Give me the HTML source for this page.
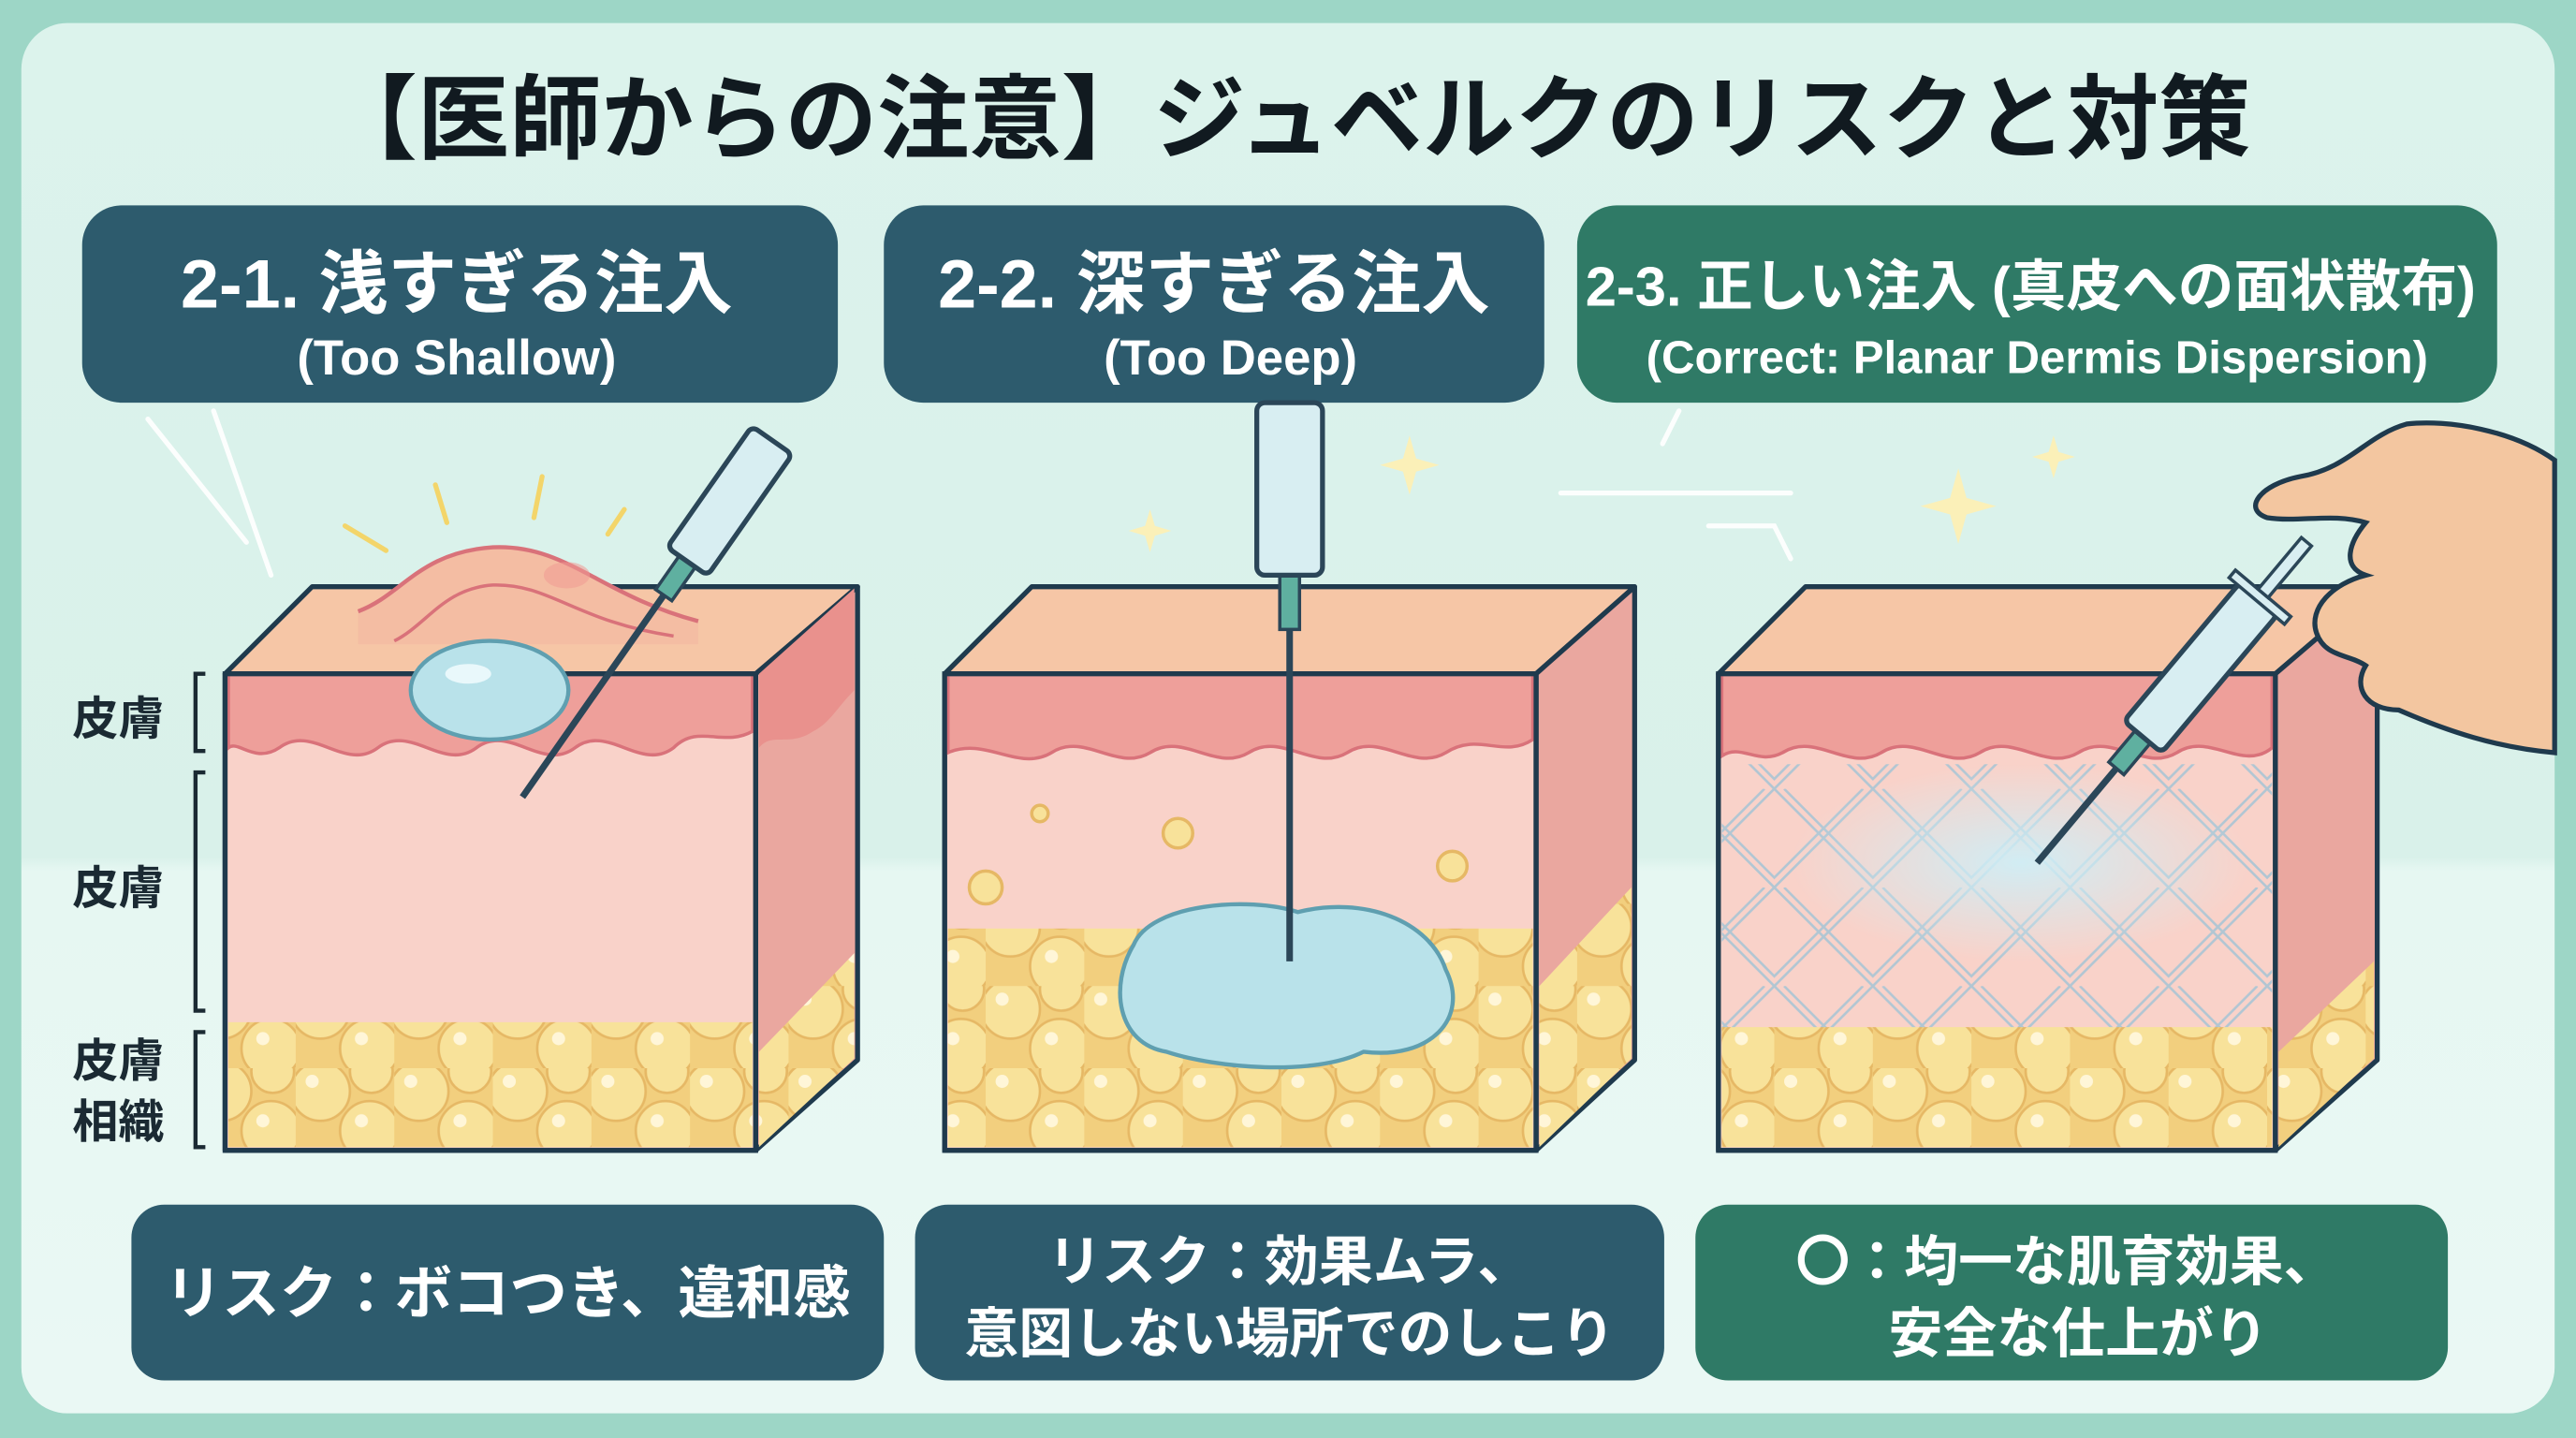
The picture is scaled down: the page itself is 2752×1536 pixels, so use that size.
<!DOCTYPE html>
<html><head><meta charset="utf-8"><style>
html,body{margin:0;padding:0;width:2752px;height:1536px;overflow:hidden;background:#9dd6c6}
svg{display:block}
text{font-family:"Liberation Sans","Noto Sans CJK JP",sans-serif;font-weight:bold}
</style></head><body>
<svg width="2752" height="1536" viewBox="0 0 1568 875" preserveAspectRatio="none" xmlns="http://www.w3.org/2000/svg">
<defs>
<linearGradient id="bg" x1="0" y1="0" x2="0" y2="1">
<stop offset="0" stop-color="#dcf3ec"/><stop offset="0.6" stop-color="#d9f1ea"/><stop offset="0.61" stop-color="#e6f7f2"/><stop offset="1" stop-color="#eaf8f4"/></linearGradient>
<pattern id="fat" width="60" height="50" patternUnits="userSpaceOnUse">
<rect width="60" height="50" fill="#f2cf7e"/>
<circle cx="15" cy="14" r="18" fill="#f8e29a" stroke="#e6b865" stroke-width="1.5"/>
<circle cx="45" cy="38" r="18" fill="#f8e29a" stroke="#e6b865" stroke-width="1.5"/>
<circle cx="46" cy="2" r="13" fill="#f8e29a" stroke="#e6b865" stroke-width="1.5"/>
<circle cx="10" cy="8" r="4" fill="#fff6d8"/><circle cx="40" cy="32" r="4" fill="#fff6d8"/>
</pattern>
<pattern id="mesh" width="60" height="60" patternUnits="userSpaceOnUse">
<path d="M0 0L60 60M6 0L66 60M0 60L60 0M-6 60L54 0" stroke="#9fc3d6" stroke-width="1.5" fill="none"/>
</pattern>
<radialGradient id="spray" cx="0.5" cy="0.5" r="0.5"><stop offset="0" stop-color="#cfeef6" stop-opacity="0.95"/><stop offset="1" stop-color="#cfeef6" stop-opacity="0"/></radialGradient>
</defs>
<rect x="0" y="0" width="1568" height="875" fill="#9dd6c6"/>
<rect x="13" y="14" width="1542" height="846" rx="28" fill="url(#bg)"/>

<text x="784" y="92" font-size="56" font-weight="900" text-anchor="middle" fill="#111a20">【医師からの注意】ジュベルクのリスクと対策</text>

<!-- headers -->
<rect x="50" y="125" width="460" height="120" rx="24" fill="#2d5b6d"/>
<text x="278" y="187" font-size="42" text-anchor="middle" fill="#fff">2-1. 浅すぎる注入</text>
<text x="278" y="228" font-size="30" text-anchor="middle" fill="#fff">(Too Shallow)</text>
<rect x="538" y="125" width="402" height="120" rx="24" fill="#2d5b6d"/>
<text x="739" y="187" font-size="42" text-anchor="middle" fill="#fff">2-2. 深すぎる注入</text>
<text x="749" y="228" font-size="30" text-anchor="middle" fill="#fff">(Too Deep)</text>
<rect x="960" y="125" width="560" height="120" rx="24" fill="#2f7a66"/>
<text x="1236" y="186" font-size="34" text-anchor="middle" fill="#fff">2-3. 正しい注入 (真皮への面状散布)</text>
<text x="1240" y="227" font-size="28" text-anchor="middle" fill="#fff">(Correct: Planar Dermis Dispersion)</text>

<!-- decorative lines -->
<g stroke="#fff" stroke-width="3" fill="none" opacity="0.9" stroke-linecap="round">
<path d="M90 255 L150 330 M130 250 L165 350"/>
<path d="M1012 270 L1022 250 M950 300 L1090 300 M1040 320 L1080 320 L1090 340"/>
</g>

<!-- block 1 -->
<g stroke="#1f3a4d" stroke-width="3" stroke-linejoin="round">
<polygon points="137,410 190,357 522,357 460,410" fill="#f6c6a6"/>
<polygon points="460,410 522,357 522,645 460,700" fill="#eaa79f"/>
<rect x="137" y="410" width="323" height="290" fill="#f9d2c9"/>
</g>
<path d="M139 410 L458 410 L458 445 C440 455 425 440 410 455 C390 470 370 440 350 455 C330 470 310 440 290 455 C270 470 250 440 230 455 C210 470 190 440 170 455 C155 465 145 450 139 455 Z" fill="#ee9f9a" stroke="#d9727a" stroke-width="2"/>
<path d="M462 410 L520 358 L520 420 C510 430 505 440 495 445 C480 455 470 445 462 455Z" fill="#e9918d"/>
<!-- bump (mound on top face) -->
<path d="M218 372 C245 362 255 336 300 333 C345 331 365 362 425 378 L425 392 L218 392 Z" fill="#f4bda3"/>
<path d="M218 372 C245 362 255 336 300 333 C345 331 365 362 425 378" fill="none" stroke="#d9727a" stroke-width="2.5"/>
<path d="M240 390 C260 380 270 358 300 356 C335 355 350 378 410 387" fill="none" stroke="#d9727a" stroke-width="2"/>
<ellipse cx="345" cy="350" rx="14" ry="8" fill="#f19a94" opacity="0.55"/>
<rect x="139" y="622" width="319" height="76" fill="url(#fat)"/>
<path d="M462 640 L520 580 L520 644 L462 698Z" fill="url(#fat)"/>
<rect x="137" y="410" width="323" height="290" fill="none" stroke="#1f3a4d" stroke-width="3"/>
<ellipse cx="298" cy="420" rx="48" ry="30" fill="#b9e2ea" stroke="#5f9fb0" stroke-width="2.5"/>
<ellipse cx="285" cy="410" rx="14" ry="6" fill="#e9f8fb"/>
<g stroke="#f3d56a" stroke-width="3" stroke-linecap="round"><path d="M210 320 L235 335 M265 295 L272 318 M330 290 L325 315 M380 310 L370 325"/></g>
<!-- syringe 1 -->
<g transform="translate(318,485) rotate(35)">
<line x1="0" y1="0" x2="0" y2="-150" stroke="#2b4658" stroke-width="4"/>
<rect x="-6" y="-175" width="12" height="25" fill="#5fb0a0" stroke="#2b4658" stroke-width="2"/>
<rect x="-15" y="-265" width="30" height="90" rx="4" fill="#d8eef2" stroke="#2b4658" stroke-width="3"/>
</g>

<!-- block 2 -->
<g stroke="#1f3a4d" stroke-width="3" stroke-linejoin="round">
<polygon points="575,410 628,357 995,357 935,410" fill="#f6c6a6"/>
<polygon points="935,410 995,357 995,645 935,700" fill="#eaa79f"/>
<rect x="575" y="410" width="360" height="290" fill="#f9d2c9"/>
</g>
<path d="M577 410 L933 410 L933 450 C915 462 900 445 880 458 C860 470 840 445 820 458 C800 470 780 445 760 458 C740 470 720 445 700 458 C680 470 660 445 640 458 C620 470 600 448 577 458 Z" fill="#ee9f9a" stroke="#d9727a" stroke-width="2"/>
<rect x="577" y="565" width="356" height="133" fill="url(#fat)"/>
<path d="M937 600 L993 540 L993 644 L937 698Z" fill="url(#fat)"/>
<circle cx="717" cy="507" r="9" fill="#f8e29a" stroke="#e6b865" stroke-width="2"/>
<circle cx="884" cy="527" r="9" fill="#f8e29a" stroke="#e6b865" stroke-width="2"/>
<circle cx="633" cy="495" r="5" fill="#f8e29a" stroke="#e6b865" stroke-width="2"/>
<circle cx="600" cy="540" r="10" fill="#f8e29a" stroke="#e6b865" stroke-width="2"/>
<rect x="575" y="410" width="360" height="290" fill="none" stroke="#1f3a4d" stroke-width="3"/>
<path d="M690 575 C700 550 760 545 790 555 C830 545 870 560 880 590 C895 620 870 645 830 640 C800 655 740 650 710 640 C680 635 675 600 690 575Z" fill="#b9e2ea" stroke="#5f9fb0" stroke-width="2.5"/>
<line x1="785" y1="350" x2="785" y2="585" stroke="#2b4658" stroke-width="4"/>
<rect x="779" y="348" width="12" height="35" fill="#5fb0a0" stroke="#2b4658" stroke-width="2"/>
<rect x="765" y="245" width="40" height="105" rx="5" fill="#d8eef2" stroke="#2b4658" stroke-width="3"/>
<g fill="#fbf0b8"><path d="M858 265 l4 14 14 4 -14 4 -4 14 -4 -14 -14 -4 14 -4z"/><path d="M700 310 l3 10 10 3 -10 3 -3 10 -3 -10 -10 -3 10 -3z"/></g>

<!-- block 3 -->
<g stroke="#1f3a4d" stroke-width="3" stroke-linejoin="round">
<polygon points="1046,410 1099,357 1447,357 1385,410" fill="#f6c6a6"/>
<polygon points="1385,410 1447,357 1447,645 1385,700" fill="#eaa79f"/>
<rect x="1046" y="410" width="339" height="290" fill="#f9d2c9"/>
</g>
<path d="M1048 410 L1383 410 L1383 455 C1365 470 1345 445 1325 458 C1305 470 1285 445 1265 458 C1245 470 1225 445 1205 458 C1185 470 1165 445 1145 458 C1125 470 1105 445 1085 458 C1070 466 1060 452 1048 460 Z" fill="#ee9f9a" stroke="#d9727a" stroke-width="2"/>
<rect x="1048" y="465" width="335" height="170" fill="url(#mesh)" opacity="0.8"/>
<ellipse cx="1230" cy="525" rx="140" ry="60" fill="url(#spray)"/>
<rect x="1048" y="625" width="335" height="73" fill="url(#fat)"/>
<path d="M1387 640 L1445 585 L1445 644 L1387 698Z" fill="url(#fat)"/>
<rect x="1046" y="410" width="339" height="290" fill="none" stroke="#1f3a4d" stroke-width="3"/>
<!-- hand -->
<path d="M1555 280 C1530 262 1490 255 1465 258 C1440 265 1430 285 1400 290 C1375 295 1365 310 1380 315 C1400 318 1420 312 1440 318 C1430 330 1425 345 1440 350 C1420 355 1405 370 1410 385 C1415 400 1430 398 1440 405 C1432 418 1440 432 1460 432 C1490 445 1520 455 1555 458 Z" fill="#f3c6a0" stroke="#1f3a4d" stroke-width="3"/>
<!-- syringe 3 -->
<g transform="translate(1240,525) rotate(40)">
<line x1="0" y1="0" x2="0" y2="-75" stroke="#2b4658" stroke-width="4"/>
<rect x="-6" y="-100" width="12" height="25" fill="#5fb0a0" stroke="#2b4658" stroke-width="2"/>
<rect x="-15" y="-210" width="30" height="110" rx="4" fill="#d8eef2" stroke="#2b4658" stroke-width="3"/>
<rect x="-22" y="-214" width="44" height="6" fill="#d8eef2" stroke="#2b4658" stroke-width="2"/>
<rect x="-4" y="-255" width="8" height="41" fill="#d8eef2" stroke="#2b4658" stroke-width="2"/>
</g>
<g fill="#fbf0b8"><path d="M1192 285 l5 18 18 5 -18 5 -5 18 -5 -18 -18 -5 18 -5z"/><path d="M1250 265 l3 10 10 3 -10 3 -3 10 -3 -10 -10 -3 10 -3z"/></g>

<!-- left labels -->
<g font-size="28" fill="#1b2a33">
<text x="44" y="447">皮膚</text>
<text x="44" y="550">皮膚</text>
<text x="44" y="655">皮膚</text>
<text x="44" y="692">相織</text>
</g>
<g stroke="#1b2a33" stroke-width="2.5" fill="none">
<path d="M125 410 L119 410 L119 457 L125 457"/>
<path d="M125 470 L119 470 L119 615 L125 615"/>
<path d="M125 628 L119 628 L119 698 L125 698"/>
</g>

<!-- bottom boxes -->
<rect x="80" y="733" width="458" height="107" rx="20" fill="#2d5b6d"/>
<text x="309" y="799" font-size="35" text-anchor="middle" fill="#fff">リスク：ボコつき、違和感</text>
<rect x="557" y="733" width="456" height="107" rx="20" fill="#2d5b6d"/>
<text x="785" y="779" font-size="33" text-anchor="middle" fill="#fff">リスク：効果ムラ、</text>
<text x="785" y="823" font-size="33" text-anchor="middle" fill="#fff">意図しない場所でのしこり</text>
<rect x="1032" y="733" width="458" height="107" rx="20" fill="#2f7a66"/>
<text x="1258" y="779" font-size="33" text-anchor="middle" fill="#fff">〇：均一な肌育効果、</text>
<text x="1265" y="823" font-size="33" text-anchor="middle" fill="#fff">安全な仕上がり</text>
</svg>
</body></html>
